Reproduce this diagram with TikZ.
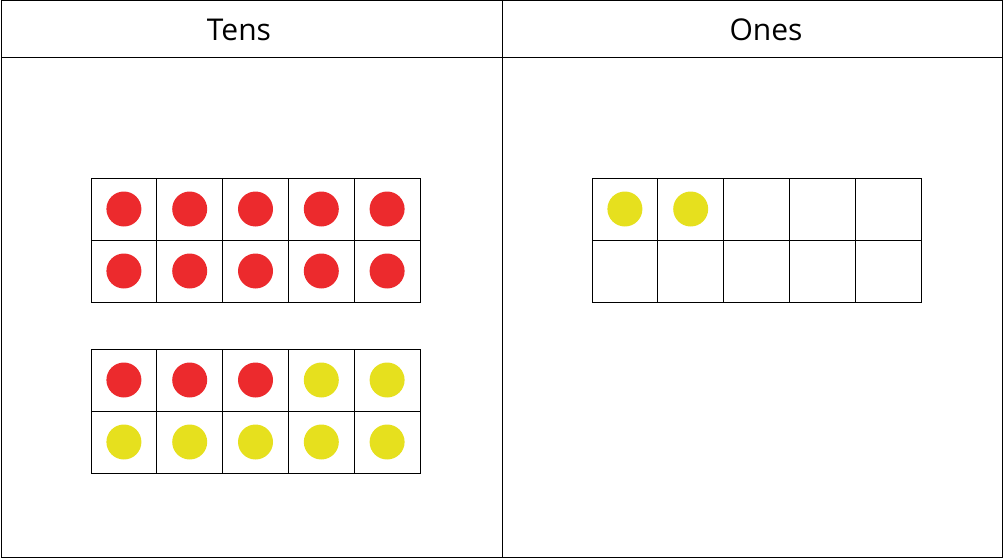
\documentclass[tikz,border=0pt]{standalone}
\usepackage{fontspec}
\setmainfont{Open Sans}
\definecolor{dotred}{HTML}{EC2A2D}
\definecolor{dotyel}{HTML}{E6E01E}
\begin{document}
\begin{tikzpicture}[x=1pt,y=-1pt,
  dot/.style={circle,minimum size=35pt,inner sep=0pt,fill=#1},
  head/.style={font=\fontsize{30}{36}\selectfont},
  gridline/.style={draw=black,line width=0.8pt}]
\useasboundingbox (0,0) rectangle (1004,559);
\draw[line width=1pt] (1,1) rectangle (1002,557);
\draw[line width=1pt] (1,58) -- (1002,58);
\draw[line width=1pt] (502,1) -- (502,557);
\node[head] (tens) at (239,30) {Tens};
\node[head] (ones) at (766,30) {Ones};
% frames
\foreach \x/\y in {91/178, 91/349, 592/178}{
  \draw[gridline] (\x,\y) rectangle ++(329,124);
  \draw[gridline] (\x,\y+62) -- ++(329,0);
  \foreach \i in {1,...,4}{\draw[gridline] (\x+\i*65.8,\y) -- ++(0,124);}
}
% dots frame 1: all red
\foreach \i in {0,...,4}{
  \node[dot=dotred] (a\i) at (91+32.9+\i*65.8,209) {};
  \node[dot=dotred] (b\i) at (91+32.9+\i*65.8,271) {};
}
% frame 2
\foreach \i/\c in {0/dotred,1/dotred,2/dotred,3/dotyel,4/dotyel}{
  \node[dot=\c] (c\i) at (91+32.9+\i*65.8,380) {};
  \node[dot=dotyel] (d\i) at (91+32.9+\i*65.8,442) {};
}
% ones
\node[dot=dotyel] (o0) at (592+32.9,209) {};
\node[dot=dotyel] (o1) at (592+32.9+65.8,209) {};
\end{tikzpicture}
\end{document}
